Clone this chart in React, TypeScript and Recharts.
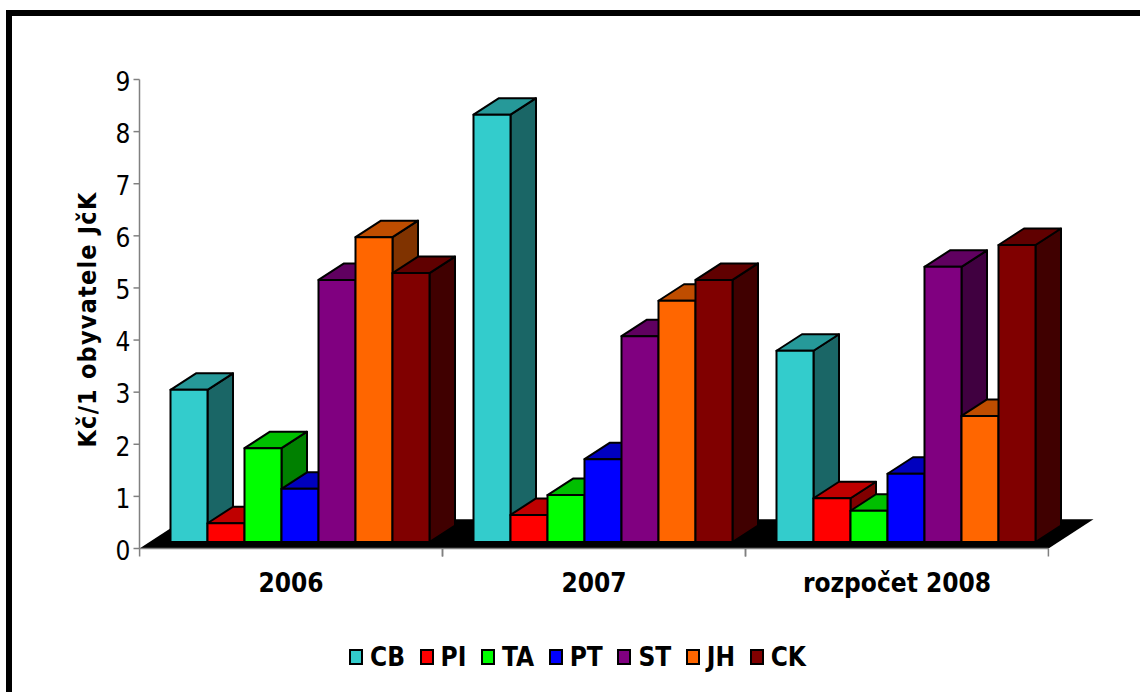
import { BarChart, Bar, XAxis, YAxis, Legend, ReferenceArea, Label } from "recharts"

const categories = ["2006", "2007", "rozpočet 2008"]
const yTicks = [0, 1, 2, 3, 4, 5, 6, 7, 8, 9]
const seriesNames = ["CB", "PI", "TA", "PT", "ST", "JH", "CK"]

const cbValues = [2.92, 8.2, 3.67]
const piValues = [0.36, 0.52, 0.84]
const taValues = [1.8, 0.9, 0.6]
const ptValues = [1.02, 1.59, 1.31]
const stValues = [5.03, 3.95, 5.28]
const jhValues = [5.85, 4.63, 2.42]
const ckValues = [5.16, 5.03, 5.7]

const seriesValues = [cbValues, piValues, taValues, ptValues, stValues, jhValues, ckValues]

const frontColors = ["#33cccc", "#ff0000", "#00ff00", "#0000ff", "#800080", "#ff6600", "#800000"]
const topColors = ["#269999", "#bf0000", "#00bf00", "#0000bf", "#600060", "#bf4d00", "#600000"]
const sideColors = ["#1a6666", "#800000", "#008000", "#000080", "#400040", "#803300", "#400000"]

const chartData = categories.map((name, i) => {
  const row: Record<string, string | number> = { name }
  seriesNames.forEach((s, j) => {
    row[s] = seriesValues[j][i]
  })
  return row
})

const FONT = '"DejaVu Sans Condensed", "DejaVu Sans", sans-serif'
const AXIS_GREY = "#808080"
const BAND = 302.8

// faked 3d look, the front face sits a bit inside the floor
const SHIFT_X = 8
const SHIFT_Y = -6.5
const DEPTH_X = 25.5
const DEPTH_Y = -16.5

function Bar3D({ x, y, width, height, index, top, side, fill }: any) {
  const l = x + SHIFT_X
  const t = y + SHIFT_Y
  const r = l + width
  const b = t + height
  const common = { stroke: "#000", strokeWidth: 2, strokeLinejoin: "round" as const }
  return (
    <g key={index}>
      <polygon
        points={`${r},${t} ${r + DEPTH_X},${t + DEPTH_Y} ${r + DEPTH_X},${b + DEPTH_Y} ${r},${b}`}
        fill={side}
        {...common}
      />
      <polygon
        points={`${l},${t} ${l + DEPTH_X},${t + DEPTH_Y} ${r + DEPTH_X},${t + DEPTH_Y} ${r},${t}`}
        fill={top}
        {...common}
      />
      <rect x={l} y={t} width={width} height={height} fill={fill} {...common} />
    </g>
  )
}

function Floor({ x, y, width, height }: any) {
  const b = y + height
  return <polygon points={`${x},${b} ${x + width},${b} ${x + width + 45},${y} ${x + 45},${y}`} fill="#000" />
}

function CategoryTick({ x, y, payload }: any) {
  return (
    <g>
      <line x1={x - BAND / 2} x2={x - BAND / 2} y1={y - 8} y2={y} stroke={AXIS_GREY} strokeWidth={1.5} />
      <line x1={x + BAND / 2} x2={x + BAND / 2} y1={y - 8} y2={y} stroke={AXIS_GREY} strokeWidth={1.5} />
      <text x={x} y={y + 35} textAnchor="middle" fontFamily={FONT} fontWeight="bold" fontSize={26} fill="#000">
        {payload.value}
      </text>
    </g>
  )
}

function LegendRow({ payload }: any) {
  return (
    <div style={{ display: "flex", alignItems: "center", fontFamily: FONT, fontWeight: "bold", fontSize: 26, lineHeight: "30px" }}>
      {(payload || []).map((item: any) => (
        <div key={item.value} style={{ display: "flex", alignItems: "center", marginRight: 14.6 }}>
          <span
            style={{
              display: "inline-block",
              boxSizing: "border-box",
              width: 14,
              height: 16,
              background: item.color,
              border: "2px solid #000",
              marginRight: 7,
            }}
          />
          <span style={{ color: "#000" }}>{item.value}</span>
        </div>
      ))}
    </div>
  )
}

export default function App() {
  return (
    <div style={{ position: "absolute", left: 0, top: 0, width: 1140, height: 692, background: "#fff", overflow: "hidden" }}>
      <div
        style={{
          position: "absolute",
          left: 6,
          top: 10,
          width: 1134,
          height: 682,
          boxSizing: "border-box",
          borderLeft: "6px solid #000",
          borderTop: "6px solid #000",
        }}
      />
      <div style={{ position: "absolute", left: 0, top: 0 }}>
        <BarChart
          width={1140}
          height={692}
          data={chartData}
          margin={{ top: 79.5, right: 91.5, bottom: 0, left: 0 }}
          barCategoryGap={23}
          barGap={0}
        >
          <ReferenceArea y1={0} y2={0.56} shape={<Floor />} />
          <XAxis
            dataKey="name"
            height={143.5}
            tick={<CategoryTick />}
            tickLine={false}
            axisLine={{ stroke: AXIS_GREY, strokeWidth: 1.5 }}
            interval={0}
          />
          <YAxis
            width={139.5}
            domain={[0, 9]}
            ticks={yTicks}
            interval={0}
            tickSize={6}
            tickMargin={3}
            tick={{ fontFamily: FONT, fontSize: 26, fill: "#000", dy: 2 }}
            tickLine={{ stroke: AXIS_GREY, strokeWidth: 1.5 }}
            axisLine={{ stroke: AXIS_GREY, strokeWidth: 1.5 }}
          >
            <Label
              value="Kč/1 obyvatele JčK"
              angle={-90}
              position={{ x: 96, y: 240 }}
              style={{ fontFamily: FONT, fontWeight: "bold", fontSize: 25, letterSpacing: 1.2, fill: "#000", textAnchor: "middle" }}
            />
          </YAxis>
          <Legend
            layout="vertical"
            align="center"
            verticalAlign="middle"
            itemSorter={null}
            content={<LegendRow />}
            wrapperStyle={{ position: "absolute", left: 349, top: 642, width: "auto" }}
          />
          {seriesNames.map((s, i) => (
            <Bar
              key={s}
              dataKey={s}
              name={s}
              fill={frontColors[i]}
              isAnimationActive={false}
              shape={(props: any) => <Bar3D {...props} top={topColors[i]} side={sideColors[i]} fill={frontColors[i]} />}
            />
          ))}
        </BarChart>
      </div>
    </div>
  )
}
